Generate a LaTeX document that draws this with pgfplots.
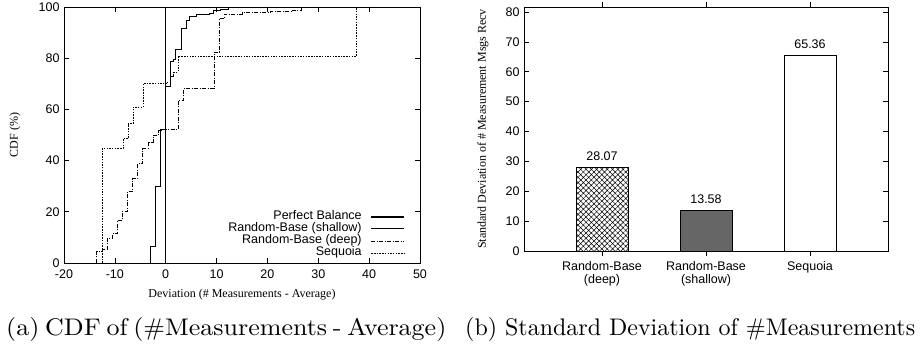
\documentclass[border=0pt]{standalone}
\usepackage{pgfplots}
\pgfplotsset{compat=1.18}
\usepackage{graphicx}
\usepackage{fontspec}
\newfontfamily\sans{Liberation Sans}
\newfontfamily\serif{Liberation Serif}
\usetikzlibrary{patterns.meta}
\begin{document}
\begin{tikzpicture}[x=1pt,y=1pt]
\path[use as bounding box] (0,0) rectangle (920,347);
\begin{axis}[
  at={(64pt,84pt)}, anchor=south west,
  scale only axis, width=356pt, height=256pt,
  xmin=-20, xmax=50, ymin=0, ymax=100,
  xtick={-20,-10,...,50}, ytick={0,20,...,100},
  tick align=inside, major tick length=5pt,
  axis line style={line width=0.8pt},
  every tick/.style={line width=0.6pt, black},
  /pgf/number format/assume math mode=true,
  ticklabel style={font=\sans\fontsize{12.5}{14}\selectfont},
  xticklabel style={yshift=-3pt},
  yticklabel style={xshift=-1pt},
  xlabel={Deviation (\# Measurements - Average)},
  ylabel={CDF (\%)},
  label style={font=\serif\fontsize{12}{14}\selectfont},
  xlabel style={at={(axis description cs:0.5,-0.123)}, anchor=center},
  ylabel style={at={(axis description cs:-0.1376,0.5)}, anchor=center},
  legend plot pos=right,
  legend cell align=right,
  legend image code/.code={\draw[#1] (0pt,0pt) -- (33pt,0pt);},
  legend style={draw=none, fill=none, at={(1,0)}, anchor=south east,
    xshift=-15pt, yshift=4pt, inner sep=0pt, outer sep=0pt,
    column sep=9pt, row sep=0pt,
    nodes={inner sep=0pt, text height=9pt, text depth=3pt,
      font=\sans\fontsize{12.5}{12}\selectfont}},
]
\addplot[black, line width=1.3pt] coordinates {(0,0) (0,100)};
\addlegendentry{Perfect Balance}
\addplot[black, line width=1pt, const plot] coordinates {
(-3,0) (-3,6.4) (-2,29.8) (-1,52.2) (0,68.9) (1,78.6) (1.5,79.5) (2,83.5)
(3.1,91.7) (4,94.7) (4.6,96.2) (6.1,96.9) (8.7,97.5) (9.4,98.8) (10.7,99.2) (12.3,100)};
\addlegendentry{Random-Base (shallow)}
\addplot[black, line width=0.8pt, const plot, dash pattern=on 4pt off 1.5pt on 1pt off 1.5pt] coordinates {
(-13.6,0) (-13.6,4.4) (-12.4,5.3) (-11.5,9.6) (-10.5,11.5) (-9.5,16.7) (-8.5,20.3)
(-7.5,28.1) (-6.5,33) (-5.5,38.8) (-4.5,44.7) (-3.5,47.3) (-2.5,49.9) (-1.5,51.8)
(-0.5,52.3) (2.5,63.5) (3.5,68.1) (9.5,82.4) (10.5,95.6) (11.6,97.3) (15,97.8)
(20.5,98.2) (25,98.8) (26.7,100)};
\addlegendentry{Random-Base (deep)}
\addplot[black, line width=0.8pt, const plot, dash pattern=on 1.5pt off 1.2pt] coordinates {
(-12.5,0) (-12.5,44.7) (-8.4,48.6) (-7.4,54.4) (-6.4,60.9) (-4.4,70.1) (0.3,70.7)
(1,72.8) (1.6,74.6) (2.4,80.8) (37.5,100)};
\addlegendentry{Sequoia}
\end{axis}
\begin{axis}[
  at={(524pt,96pt)}, anchor=south west,
  scale only axis, width=364pt, height=244pt,
  xmin=0.25, xmax=3.75, ymin=0, ymax=81.7,
  xtick={1,2,3}, ytick={0,10,...,80},
  xticklabels={{Random-Base\\(deep)},{Random-Base\\(shallow)},{Sequoia}},
  xticklabel style={align=center, yshift=-2pt},
  yticklabel style={xshift=-1pt},
  tick align=inside, major tick length=5pt,
  axis line style={line width=0.8pt},
  every tick/.style={line width=0.6pt, black},
  /pgf/number format/assume math mode=true,
  ticklabel style={font=\sans\fontsize{12.5}{12.5}\selectfont},
  ylabel={Standard Deviation of \# Measurement Msgs Recv},
  ylabel style={font=\serif\fontsize{12}{14}\selectfont, at={(axis description cs:-0.1126,0.5)}, anchor=center},
  ybar, bar width=52pt, bar shift=0pt,
  nodes near coords,
  nodes near coords style={font=\sans\fontsize{12.5}{14}\selectfont, black, yshift=3pt,
    /pgf/number format/.cd, fixed, fixed zerofill, precision=2},
]
\addplot[draw=black, line width=0.8pt, pattern={Hatch[angle=45,distance=3.75pt,line width=0.5pt]}] coordinates {(1,28.07)};
\addplot[draw=black, line width=0.8pt, fill=black!60] coordinates {(2,13.58)};
\addplot[draw=black, line width=0.8pt, fill=white] coordinates {(3,65.36)};
\end{axis}
\node[anchor=base west, inner sep=0pt] at (6,11) {\scalebox{2.6}[2.4]{\fontsize{10}{12}\selectfont\makebox[164.2pt][s]{(a) CDF of (\#Measurements - Average)}}};
\node[anchor=base west, inner sep=0pt] at (465,11) {\resizebox{450pt}{2.4\height}{\fontsize{10}{12}\selectfont (b) Standard Deviation of \#Measurements}};
\end{tikzpicture}
\end{document}
